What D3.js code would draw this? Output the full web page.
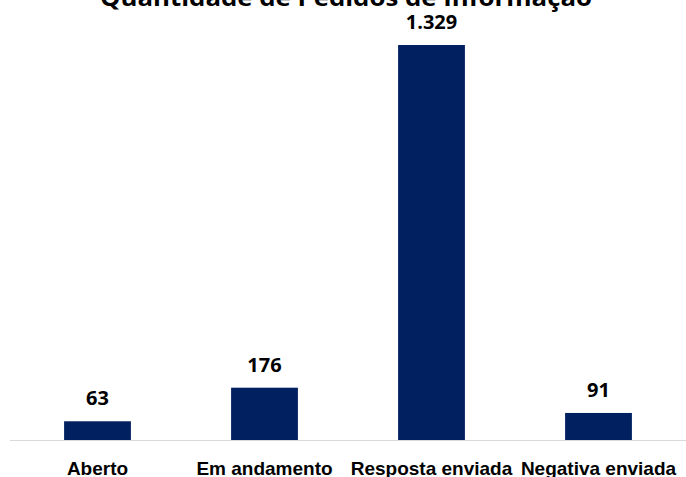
<!DOCTYPE html>
<meta charset="utf-8">
<style>
body { margin: 0; background: #fff; }
svg { display: block; font-family: "Open Sans", "Noto Sans", sans-serif; }
.title { font-size: 24px; font-weight: bold; fill: #000; }
.value { font-size: 20px; font-weight: bold; fill: #000; }
.axis text { font-size: 19px; font-weight: bold; fill: #000; }
.axis path, .axis line { stroke: #d9d9d9; }
</style>
<body>
<div id="chart"></div>
<script src="https://d3js.org/d3.v7.min.js"></script>
<script>
var categories = ["Aberto", "Em andamento", "Resposta enviada", "Negativa enviada"];
var values = [63, 176, 1329, 91];
var valueLabels = ["63", "176", "1.329", "91"];
var title = "Quantidade de Pedidos de Informação";

var width = 686, height = 477;
var baseY = 440, topY = 45;

var svg = d3.select("#chart").append("svg")
    .attr("width", width)
    .attr("height", height);

var x = d3.scaleBand().domain(categories).range([14, 682]).paddingInner(0.6).paddingOuter(0.3);
var y = d3.scaleLinear().domain([0, 1329]).range([baseY, topY]);

svg.append("text")
    .attr("class", "title")
    .attr("x", 346)
    .attr("y", 6)
    .attr("text-anchor", "middle")
    .attr("textLength", 492)
    .attr("lengthAdjust", "spacingAndGlyphs")
    .text(title);

svg.selectAll(".bar")
    .data(values)
    .enter().append("rect")
    .attr("class", "bar")
    .attr("x", function(d, i) { return x(categories[i]); })
    .attr("y", function(d) { return y(d); })
    .attr("width", x.bandwidth())
    .attr("height", function(d) { return baseY - y(d); })
    .attr("fill", "#002060");

svg.selectAll(".value")
    .data(values)
    .enter().append("text")
    .attr("class", "value")
    .attr("x", function(d, i) { return x(categories[i]) + x.bandwidth() / 2; })
    .attr("y", function(d) { return y(d) - 16; })
    .attr("text-anchor", "middle")
    .text(function(d, i) { return valueLabels[i]; });

var axis = svg.append("g")
    .attr("class", "axis")
    .attr("transform", "translate(0," + baseY + ")")
    .call(d3.axisBottom(x).tickSize(0));
axis.select("path").attr("d", "M10,0.5H686");
axis.selectAll("text").attr("y", 35).attr("dy", 0);
</script>
</body>
